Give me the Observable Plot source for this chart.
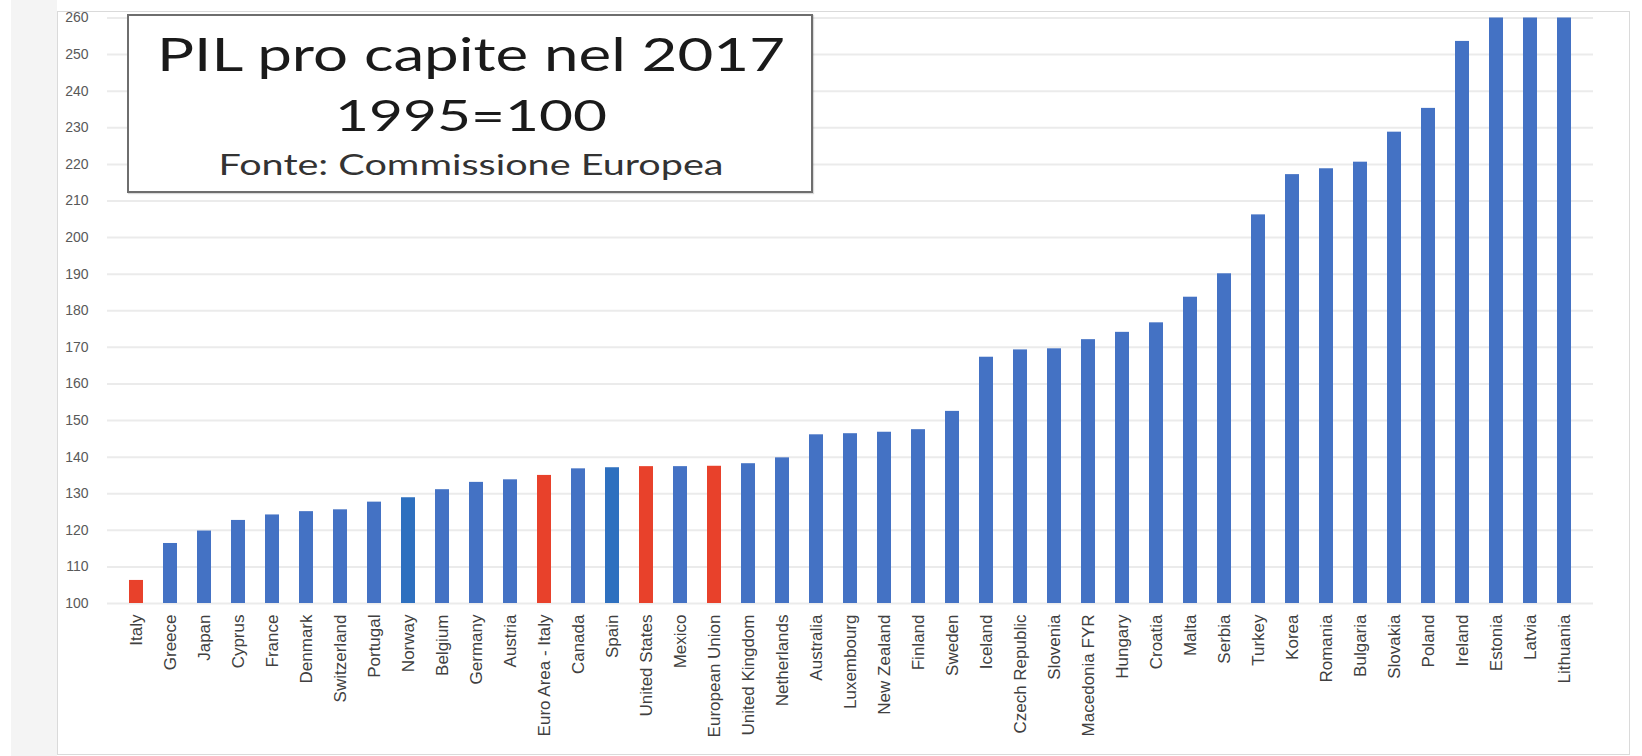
<!DOCTYPE html>
<html>
<head>
<meta charset="utf-8">
<script src="https://cdn.jsdelivr.net/npm/d3@7"></script>
<script src="https://cdn.jsdelivr.net/npm/@observablehq/plot@0.6"></script>
<style>
  html, body { margin: 0; padding: 0; background: #ffffff; }
  body { width: 1642px; height: 756px; position: relative; overflow: hidden; }
  #strip { position: absolute; left: 11px; top: 0; width: 46px; height: 756px; background: #f4f4f4; }
  #frame { position: absolute; left: 57px; top: 11px; width: 1573px; height: 744px; box-sizing: border-box; border: 1px solid #dadada; }
  #chart { position: absolute; left: 0; top: 0; }
  #titlebox { position: absolute; left: 127px; top: 14px; width: 686px; height: 179px; box-sizing: border-box; border: 2px solid #6e6e6e; background: #ffffff; box-shadow: 1px 1px 1px rgba(0,0,0,0.15); }
  #titlebox svg { position: absolute; left: 0; top: 0; }
</style>
</head>
<body>
<div id="strip"></div>
<div id="frame"></div>
<div id="chart"></div>
<div id="titlebox">
  <svg width="686" height="179" xmlns="http://www.w3.org/2000/svg" font-family="Lato, 'Open Sans', sans-serif">
    <text x="342" y="55" text-anchor="middle" font-size="47" fill="#1a1a1a" textLength="628" lengthAdjust="spacingAndGlyphs">PIL pro capite nel 2017</text>
    <text x="342" y="115" text-anchor="middle" font-size="43" fill="#1a1a1a" textLength="272" lengthAdjust="spacingAndGlyphs">1995=100</text>
    <text x="342" y="159" text-anchor="middle" font-size="29" fill="#333333" textLength="505" lengthAdjust="spacingAndGlyphs">Fonte: Commissione Europea</text>
  </svg>
</div>
<script>
// Categories (x axis), in the order shown
const countries = [
  "Italy", "Greece", "Japan", "Cyprus", "France", "Denmark", "Switzerland", "Portugal",
  "Norway", "Belgium", "Germany", "Austria", "Euro Area - Italy", "Canada", "Spain",
  "United States", "Mexico", "European Union", "United Kingdom", "Netherlands", "Australia",
  "Luxembourg", "New Zealand", "Finland", "Sweden", "Iceland", "Czech Republic", "Slovenia",
  "Macedonia FYR", "Hungary", "Croatia", "Malta", "Serbia", "Turkey", "Korea", "Romania",
  "Bulgaria", "Slovakia", "Poland", "Ireland", "Estonia", "Latvia", "Lithuania"
];

// GDP per capita in 2017, 1995 = 100 (last three reach the top of the axis)
const values = [
  106.3, 116.4, 119.8, 122.7, 124.2, 125.1, 125.6, 127.7,
  128.9, 131.1, 133.1, 133.8, 135.0, 136.8, 137.1,
  137.4, 137.4, 137.5, 138.2, 139.8, 146.1,
  146.4, 146.8, 147.5, 152.5, 167.3, 169.3, 169.6,
  172.1, 174.1, 176.7, 183.7, 190.1, 206.2, 217.2, 218.8,
  220.6, 228.8, 235.3, 253.6, 260, 260, 260
];

// Highlighted categories
const redCategories = ["Italy", "Euro Area - Italy", "United States", "European Union"];
const darkBlueCategories = ["Norway", "Spain"];

// Y axis tick values
const yTicks = [100, 110, 120, 130, 140, 150, 160, 170, 180, 190, 200, 210, 220, 230, 240, 250, 260];
const yDomain = [100, 260];
const baseline = 100;

const data = countries.map((c, i) => ({
  country: c,
  value: values[i],
  group: redCategories.includes(c) ? "red" : darkBlueCategories.includes(c) ? "dark" : "blue"
}));

const chart = Plot.plot({
  width: 1642,
  height: 756,
  marginLeft: 107,
  marginRight: 49,
  marginTop: 17.5,
  marginBottom: 153,
  style: { background: "transparent", fontFamily: "'Liberation Sans', Arial, sans-serif" },
  x: { domain: countries, paddingInner: 0.58, paddingOuter: 0.29, label: null },
  y: { domain: yDomain, label: null, clamp: true },
  color: { domain: ["blue", "dark", "red"], range: ["#4472C4", "#2E70BF", "#E8412B"] },
  marks: [
    Plot.gridY(yTicks, { stroke: "#ebebeb", strokeOpacity: 1, strokeWidth: 2 }),
    Plot.barY(data, { x: "country", y1: baseline, y2: "value", fill: "group" }),
    Plot.axisY(yTicks, { tickSize: 0, tickPadding: 19, fontSize: 14, fill: "#595959", label: null }),
    Plot.axisX({ tickSize: 0, tickPadding: 11, tickRotate: -90, fontSize: 17, fill: "#404040", label: null })
  ]
});
document.getElementById("chart").appendChild(chart);
</script>
</body>
</html>
